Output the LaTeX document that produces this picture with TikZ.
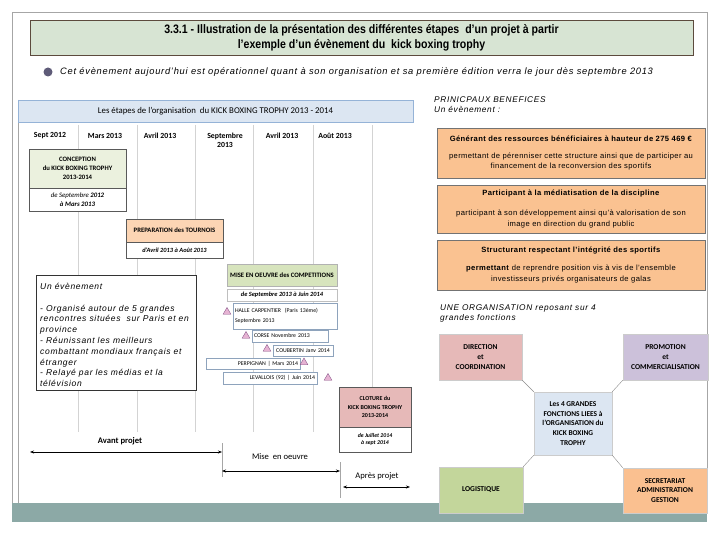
\documentclass[tikz,border=0pt]{standalone}
\usepackage{fontspec}
\setmainfont{Liberation Sans}
\newfontfamily\calfont{Carlito}
\newfontfamily\narrowfont[FakeStretch=0.86]{Liberation Sans}
\newfontfamily\widefont[LetterSpace=8]{Liberation Sans}
\newfontfamily\benfont[LetterSpace=5]{Liberation Sans}
\usetikzlibrary{arrows.meta,shapes.geometric}
\definecolor{framegray}{HTML}{A6A6A6}
\definecolor{titlefill}{HTML}{D7E4D3}
\definecolor{titledraw}{HTML}{5C4A3D}
\definecolor{bulletc}{HTML}{5E5B78}
\definecolor{hdrfill}{HTML}{DCE6F2}
\definecolor{hdrdraw}{HTML}{95B3D7}
\definecolor{colline}{HTML}{D3D3D3}
\definecolor{concfill}{HTML}{EBF1DE}
\definecolor{prepfill}{HTML}{FCD5B4}
\definecolor{misefill}{HTML}{D7E4BD}
\definecolor{clotfill}{HTML}{E6B9B8}
\definecolor{compdraw}{HTML}{8EA3BC}
\definecolor{trifill}{HTML}{E6B3D3}
\definecolor{tridraw}{HTML}{8E5C8E}
\definecolor{benfill}{HTML}{FAC291}
\definecolor{promofill}{HTML}{CCC1DA}
\definecolor{logfill}{HTML}{C3D69B}
\definecolor{secfill}{HTML}{FAC090}
\definecolor{bandc}{HTML}{8CA9A6}
\tikzset{
  stagebox/.style={draw=black!65, line width=0.5pt, inner sep=0pt, align=center,
    font=\calfont\bfseries\fontsize{6.7}{9}\selectfont},
  datebox/.style={draw=black!65, line width=0.5pt, fill=white, inner sep=0pt, align=center,
    font=\calfont\bfseries\itshape\fontsize{6.4}{8}\selectfont},
  compbox/.style={draw=compdraw, line width=0.5pt, fill=white, inner ysep=0pt, inner xsep=2pt,
    font=\calfont\fontsize{5.8}{9.5}\selectfont},
  tri/.style={regular polygon, regular polygon sides=3, draw=tridraw, fill=trifill,
    line width=0.4pt, inner sep=0pt, minimum size=9pt},
  collabel/.style={font=\calfont\bfseries\fontsize{7.8}{9.5}\selectfont, align=center, inner sep=0pt},
  benbox/.style={draw=black!55, line width=0.5pt, fill=benfill, inner sep=0pt, align=center,
    minimum width=268pt, font=\benfont\fontsize{7.6}{10.5}\selectfont},
  orgbox/.style={draw=black!20, line width=0.4pt, inner sep=0pt, align=center,
    font=\calfont\bfseries\fontsize{7.5}{9.6}\selectfont},
  orglink/.style={draw=black!45, line width=0.4pt},
  spanarrow/.style={{Stealth[length=4pt,width=3pt]}-{Stealth[length=4pt,width=3pt]}, line width=0.9pt},
  tick/.style={draw=black!35, line width=0.5pt},
  italtext/.style={font=\widefont\itshape\fontsize{8.5}{10.8}\selectfont, align=left, inner sep=0pt}
}
\begin{document}
\begin{tikzpicture}[x=1pt,y=-1pt]
\useasboundingbox (0,0) rectangle (720,540);
\fill[white] (0,0) rectangle (720,540);
% outer frame
\draw[framegray, line width=0.6pt] (12,503) -- (12,12) -- (707,12) -- (707,503);
% bottom band
\fill[bandc] (12,503) rectangle (707,522);
% title
\node[draw=titledraw, fill=titlefill, line width=0.7pt, minimum width=663pt, minimum height=35pt,
  inner sep=0pt, align=center, font=\narrowfont\bfseries\fontsize{12.3}{15}\selectfont]
  (title) at (361.5,37.5) {3.3.1 - Illustration de la présentation des différentes étapes\ \ d’un projet à partir\\
  l’exemple d’un évènement du\ \ kick boxing trophy};
% bullet line
\node[circle, fill=bulletc, minimum size=9pt, inner sep=0pt] (bul) at (48,72) {};
\node[anchor=west, inner sep=0pt, font=\widefont\itshape\fontsize{9.3}{10}\selectfont] (intro) at (60,72)
  {Cet évènement aujourd’hui est opérationnel quant à son organisation et sa première édition verra le jour dès septembre 2013};
% ---------------- left chart
\draw[framegray, line width=0.6pt] (18,100) -- (18,503);
\foreach \xx in {78,137,195,253,313,372} \draw[colline, line width=0.6pt] (\xx,125) -- (\xx,432);
\node[draw=hdrdraw, fill=hdrfill, line width=0.5pt, minimum width=395pt, minimum height=22pt, inner sep=0pt,
  font=\calfont\fontsize{8.8}{10}\selectfont] (hdr) at (215.5,111)
  {Les étapes de l’organisation\ \ du KICK BOXING TROPHY 2013 - 2014};
\node[collabel] (c1) at (50,136) {Sept 2012};
\node[collabel] (c2) at (105,136) {Mars 2013};
\node[collabel] (c3) at (160,136) {Avril 2013};
\node[collabel] (c4) at (225,140.5) {Septembre\\2013};
\node[collabel] (c5) at (282,136) {Avril 2013};
\node[collabel] (c6) at (335,136) {Août 2013};
% conception
\node[stagebox, fill=concfill, minimum width=97pt, minimum height=39pt] (conc) at (77.5,168.5)
  {CONCEPTION\\du KICK BOXING TROPHY\\2013-2014};
\node[datebox, minimum width=97pt, minimum height=23pt, font=\calfont\itshape\fontsize{6.8}{8.4}\selectfont]
  (conc date) at (77.5,199.5) {de Septembre \textbf{2012}\\\textbf{à Mars 2013}};
% preparation
\node[stagebox, fill=prepfill, minimum width=97pt, minimum height=23pt] (prep) at (174.5,230.5)
  {PREPARATION des TOURNOIS};
\node[datebox, minimum width=97pt, minimum height=16pt] (prep date) at (174.5,250)
  {d’Avril 2013 à Août 2013};
% evenement box
\node[draw=black!80, line width=0.6pt, fill=white, minimum width=160pt, minimum height=115pt, inner sep=0pt] (evt) at (116,332.5) {};
\node[italtext, anchor=north west] (evt text) at (40,283)
  {Un évènement\\[10.8pt]
  - Organisé autour de 5 grandes\\
  rencontres situées\ \ sur Paris et en\\
  province\\
  - Réunissant les meilleurs\\
  combattant mondiaux français et\\
  étranger\\
  - Relayé par les médias et la\\
  télévision};
% mise en oeuvre
\node[stagebox, fill=misefill, draw=black!30, minimum width=110pt, minimum height=22pt] (mise) at (282,275)
  {MISE EN OEUVRE des COMPETITIONS};
\node[datebox, draw=black!25, minimum width=110pt, minimum height=12pt] (mise date) at (282,295)
  {de Septembre \textbf{2013} à Juin 2014};
% competitions
\node[compbox, text width=100pt, minimum height=26pt, align=left] (comp1) at (285,316)
  {HALLE CARPENTIER\ \ (Paris 13ème)\\Septembre 2013};
\node[compbox, text width=72pt, minimum height=12pt, align=left] (comp2) at (290,336) {CORSE Novembre 2013};
\node[compbox, text width=56pt, minimum height=11pt, align=center] (comp3) at (303,350.5) {COUBERTIN Janv 2014};
\node[compbox, text width=90pt, minimum height=11pt, align=right] (comp4) at (253,363.5) {PERPIGNAN | Mars 2014};
\node[compbox, text width=90pt, minimum height=12pt, align=right] (comp5) at (270,378) {LEVALLOIS (92) | Juin 2014};
\node[tri] (tri1) at (227,312) {};
\node[tri] (tri2) at (246,336) {};
\node[tri] (tri3) at (267,349) {};
\node[tri] (tri4) at (304,362.5) {};
\node[tri] (tri5) at (328,378) {};
% cloture
\node[stagebox, fill=clotfill, minimum width=72pt, minimum height=40pt, font=\calfont\bfseries\fontsize{6}{8.2}\selectfont]
  (clot) at (375,407) {CLOTURE du\\KICK BOXING TROPHY\\2013-2014};
\node[datebox, minimum width=72pt, minimum height=25pt, font=\calfont\bfseries\itshape\fontsize{5.8}{7.5}\selectfont]
  (clot date) at (375,439.5) {de Juillet 2014\\à sept 2014};
% phase arrows
\coordinate (av l) at (30,452);
\coordinate (av r) at (222,452);
\coordinate (tk1 t) at (222,443);
\coordinate (tk1 b) at (222,477);
\coordinate (mi l) at (222,471);
\coordinate (mi r) at (340,471);
\coordinate (tk2 t) at (340,462);
\coordinate (tk2 b) at (340,498);
\coordinate (ap l) at (343,487);
\coordinate (ap r) at (410,487);
\draw[tick] (tk1 t) -- (tk1 b);
\draw[tick] (tk2 t) -- (tk2 b);
\draw[spanarrow] (av l) -- (av r);
\draw[spanarrow] (mi l) -- (mi r);
\draw[spanarrow] (ap l) -- (ap r);
\node[font=\calfont\bfseries\fontsize{8.6}{9}\selectfont, inner sep=0pt] (avant) at (120,441) {Avant projet};
\node[font=\calfont\fontsize{8.6}{9}\selectfont, inner sep=0pt] (miseo) at (280,457) {Mise\ \ en oeuvre};
\node[font=\calfont\fontsize{8.6}{9}\selectfont, inner sep=0pt] (apres) at (377,476) {Après projet};
% ---------------- right side
\node[italtext, anchor=north west, font=\widefont\itshape\fontsize{8.3}{10.5}\selectfont] (benef title) at (434,96.5)
  {PRINICPAUX BENEFICES\\Un évènement :};
\node[benbox, minimum height=50pt] (ben1) at (571,153)
  {\textbf{Générant des ressources bénéficiaires à hauteur de 275 469 €}\\[6.5pt]
  permettant de pérenniser cette structure ainsi que de participer au\\
  financement de la reconversion des sportifs};
\node[benbox, minimum height=48pt] (ben2) at (571,209)
  {\textbf{Participant à la médiatisation de la discipline}\\[9.5pt]
  participant à son développement ainsi qu’à valorisation de son\\
  image en direction du grand public};
\node[benbox, minimum height=50pt] (ben3) at (571,265)
  {\textbf{Structurant respectant l’intégrité des sportifs}\\[7.5pt]
  \textbf{permettant} de reprendre position vis à vis de l’ensemble\\
  investisseurs privés organisateurs de galas};
\node[italtext, anchor=north west, font=\widefont\itshape\fontsize{8.3}{10.5}\selectfont] (org title) at (440,304.5)
  {UNE ORGANISATION reposant sur 4\\grandes fonctions};
% organisation
\node[orgbox, fill=clotfill, minimum width=83pt, minimum height=46pt] (dir) at (480.5,357)
  {DIRECTION\\et\\COORDINATION};
\node[orgbox, fill=promofill, minimum width=85pt, minimum height=46pt] (promo) at (665.5,357)
  {PROMOTION\\et\\COMMERCIALISATION};
\node[orgbox, fill=hdrfill, minimum width=78pt, minimum height=63pt, font=\calfont\bfseries\fontsize{7.4}{9.6}\selectfont] (centre) at (573,423.5)
  {Les 4 GRANDES\\FONCTIONS LIEES à\\l’ORGANISATION du\\KICK BOXING\\TROPHY};
\node[orgbox, fill=logfill, minimum width=84pt, minimum height=46pt] (logi) at (481,490) {LOGISTIQUE};
\node[orgbox, fill=secfill, minimum width=84pt, minimum height=45pt] (secr) at (665,490.5)
  {SECRETARIAT\\ADMINISTRATION\\GESTION};
\draw[orglink] (dir.south east) -- (centre.north west);
\draw[orglink] (promo.south west) -- (centre.north east);
\draw[orglink] (centre.south west) -- (logi.north east);
\draw[orglink] (centre.south east) -- (secr.north west);
\end{tikzpicture}
\end{document}
